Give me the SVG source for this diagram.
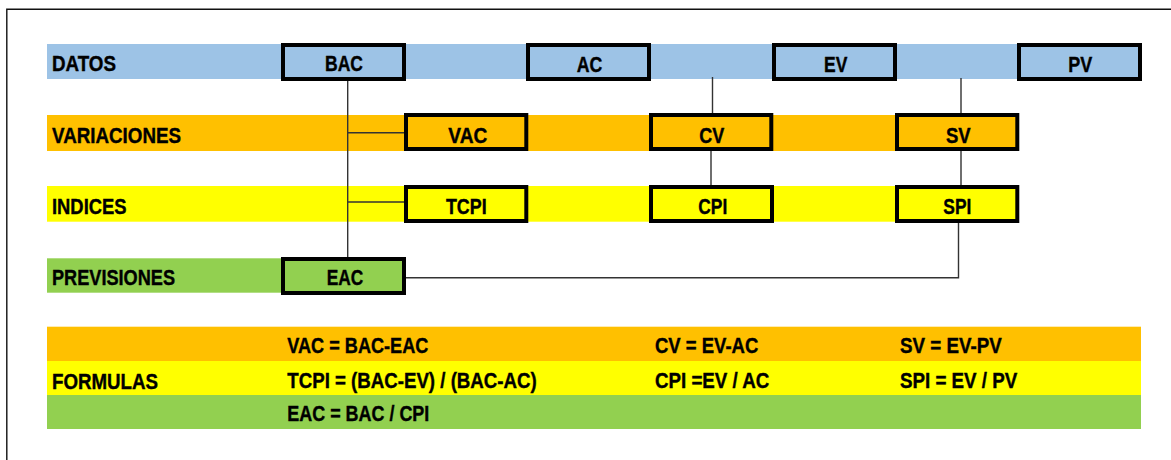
<svg xmlns="http://www.w3.org/2000/svg" width="1171" height="460" viewBox="0 0 1171 460">
<style>
text{font-family:"Liberation Sans",Arial,sans-serif;font-weight:bold;font-size:22px;fill:#000;stroke:#000;stroke-width:0.4}
.c{text-anchor:middle}
.box{stroke:#000;stroke-width:4}
.blue{fill:#9DC3E6}.org{fill:#FFC000}.yel{fill:#FFFF00}.grn{fill:#92D050}
.con{stroke:#333;stroke-width:1.4;fill:none}
</style>
<rect width="1171" height="460" fill="#fff"/>
<path d="M6.8,461 V9.2 H1172" fill="none" stroke="#111" stroke-width="1.4"/>
<g id="bands">
<rect class="blue" x="47" y="44" width="1094" height="35"/>
<rect class="org" x="47" y="115" width="972" height="36"/>
<rect class="yel" x="47" y="186" width="972" height="35.7"/>
<rect class="grn" x="47" y="258.3" width="359" height="34.4"/>
<text x="52" y="71" textLength="64" lengthAdjust="spacingAndGlyphs">DATOS</text>
<text x="52" y="142.5" textLength="129" lengthAdjust="spacingAndGlyphs">VARIACIONES</text>
<text x="52" y="214" textLength="74.5" lengthAdjust="spacingAndGlyphs">INDICES</text>
<text x="52" y="285" textLength="123" lengthAdjust="spacingAndGlyphs">PREVISIONES</text>
</g>
<g id="connectors">
<path class="con" d="M347.7,81 V257 M347.7,132.7 H404 M347.7,202 H404"/>
<path class="con" d="M712.5,77 V113 M711,151 V185"/>
<path class="con" d="M961,78 V113 M961,151 V185"/>
<path class="con" d="M958.5,223 V277.7 H406"/>
</g>
<g id="BAC"><rect class="box blue" x="283" y="45" width="121" height="34"/><text class="c" x="344" y="71" textLength="38" lengthAdjust="spacingAndGlyphs">BAC</text></g>
<g id="AC"><rect class="box blue" x="528" y="45" width="121" height="34"/><text class="c" x="589.5" y="71.5" textLength="25.6" lengthAdjust="spacingAndGlyphs">AC</text></g>
<g id="EV"><rect class="box blue" x="774" y="45" width="121" height="34"/><text class="c" x="835.7" y="71.5" textLength="23.3" lengthAdjust="spacingAndGlyphs">EV</text></g>
<g id="PV"><rect class="box blue" x="1019" y="45" width="121" height="34"/><text class="c" x="1080.3" y="71.5" textLength="24" lengthAdjust="spacingAndGlyphs">PV</text></g>
<g id="VAC"><rect class="box org" x="406" y="115" width="120.3" height="34"/><text class="c" x="467.8" y="142.7" textLength="39" lengthAdjust="spacingAndGlyphs">VAC</text></g>
<g id="CV"><rect class="box org" x="651" y="115" width="120.3" height="34"/><text class="c" x="711.8" y="142.7" textLength="25" lengthAdjust="spacingAndGlyphs">CV</text></g>
<g id="SV"><rect class="box org" x="897" y="115" width="120.3" height="34"/><text class="c" x="958.3" y="142.7" textLength="24.7" lengthAdjust="spacingAndGlyphs">SV</text></g>
<g id="TCPI"><rect class="box yel" x="406" y="187" width="120.3" height="34"/><text class="c" x="466.3" y="213.5" textLength="40.7" lengthAdjust="spacingAndGlyphs">TCPI</text></g>
<g id="CPI"><rect class="box yel" x="651" y="187" width="121" height="34"/><text class="c" x="712.8" y="213.5" textLength="29" lengthAdjust="spacingAndGlyphs">CPI</text></g>
<g id="SPI"><rect class="box yel" x="897" y="187" width="120.3" height="34"/><text class="c" x="957.3" y="213.5" textLength="28" lengthAdjust="spacingAndGlyphs">SPI</text></g>
<g id="EAC"><rect class="box grn" x="283" y="259" width="121" height="34"/><text class="c" x="345" y="285" textLength="36.6" lengthAdjust="spacingAndGlyphs">EAC</text></g>
<g id="formulas">
<rect class="org" x="47" y="326.7" width="1094" height="34.3"/>
<rect class="yel" x="47" y="361" width="1094" height="34"/>
<rect class="grn" x="47" y="395" width="1094" height="34"/>
<text x="52" y="389" textLength="106" lengthAdjust="spacingAndGlyphs">FORMULAS</text>
<text x="287.3" y="353.3" textLength="141" lengthAdjust="spacingAndGlyphs">VAC = BAC-EAC</text>
<text x="287.3" y="388" textLength="249.4" lengthAdjust="spacingAndGlyphs">TCPI = (BAC-EV) / (BAC-AC)</text>
<text x="287.3" y="420.7" textLength="142" lengthAdjust="spacingAndGlyphs">EAC = BAC / CPI</text>
<text x="655" y="353.3" textLength="103.3" lengthAdjust="spacingAndGlyphs">CV = EV-AC</text>
<text x="655" y="388" textLength="114.3" lengthAdjust="spacingAndGlyphs">CPI =EV / AC</text>
<text x="900" y="353.3" textLength="101.7" lengthAdjust="spacingAndGlyphs">SV = EV-PV</text>
<text x="900" y="388" textLength="117.3" lengthAdjust="spacingAndGlyphs">SPI = EV / PV</text>
</g>
</svg>
